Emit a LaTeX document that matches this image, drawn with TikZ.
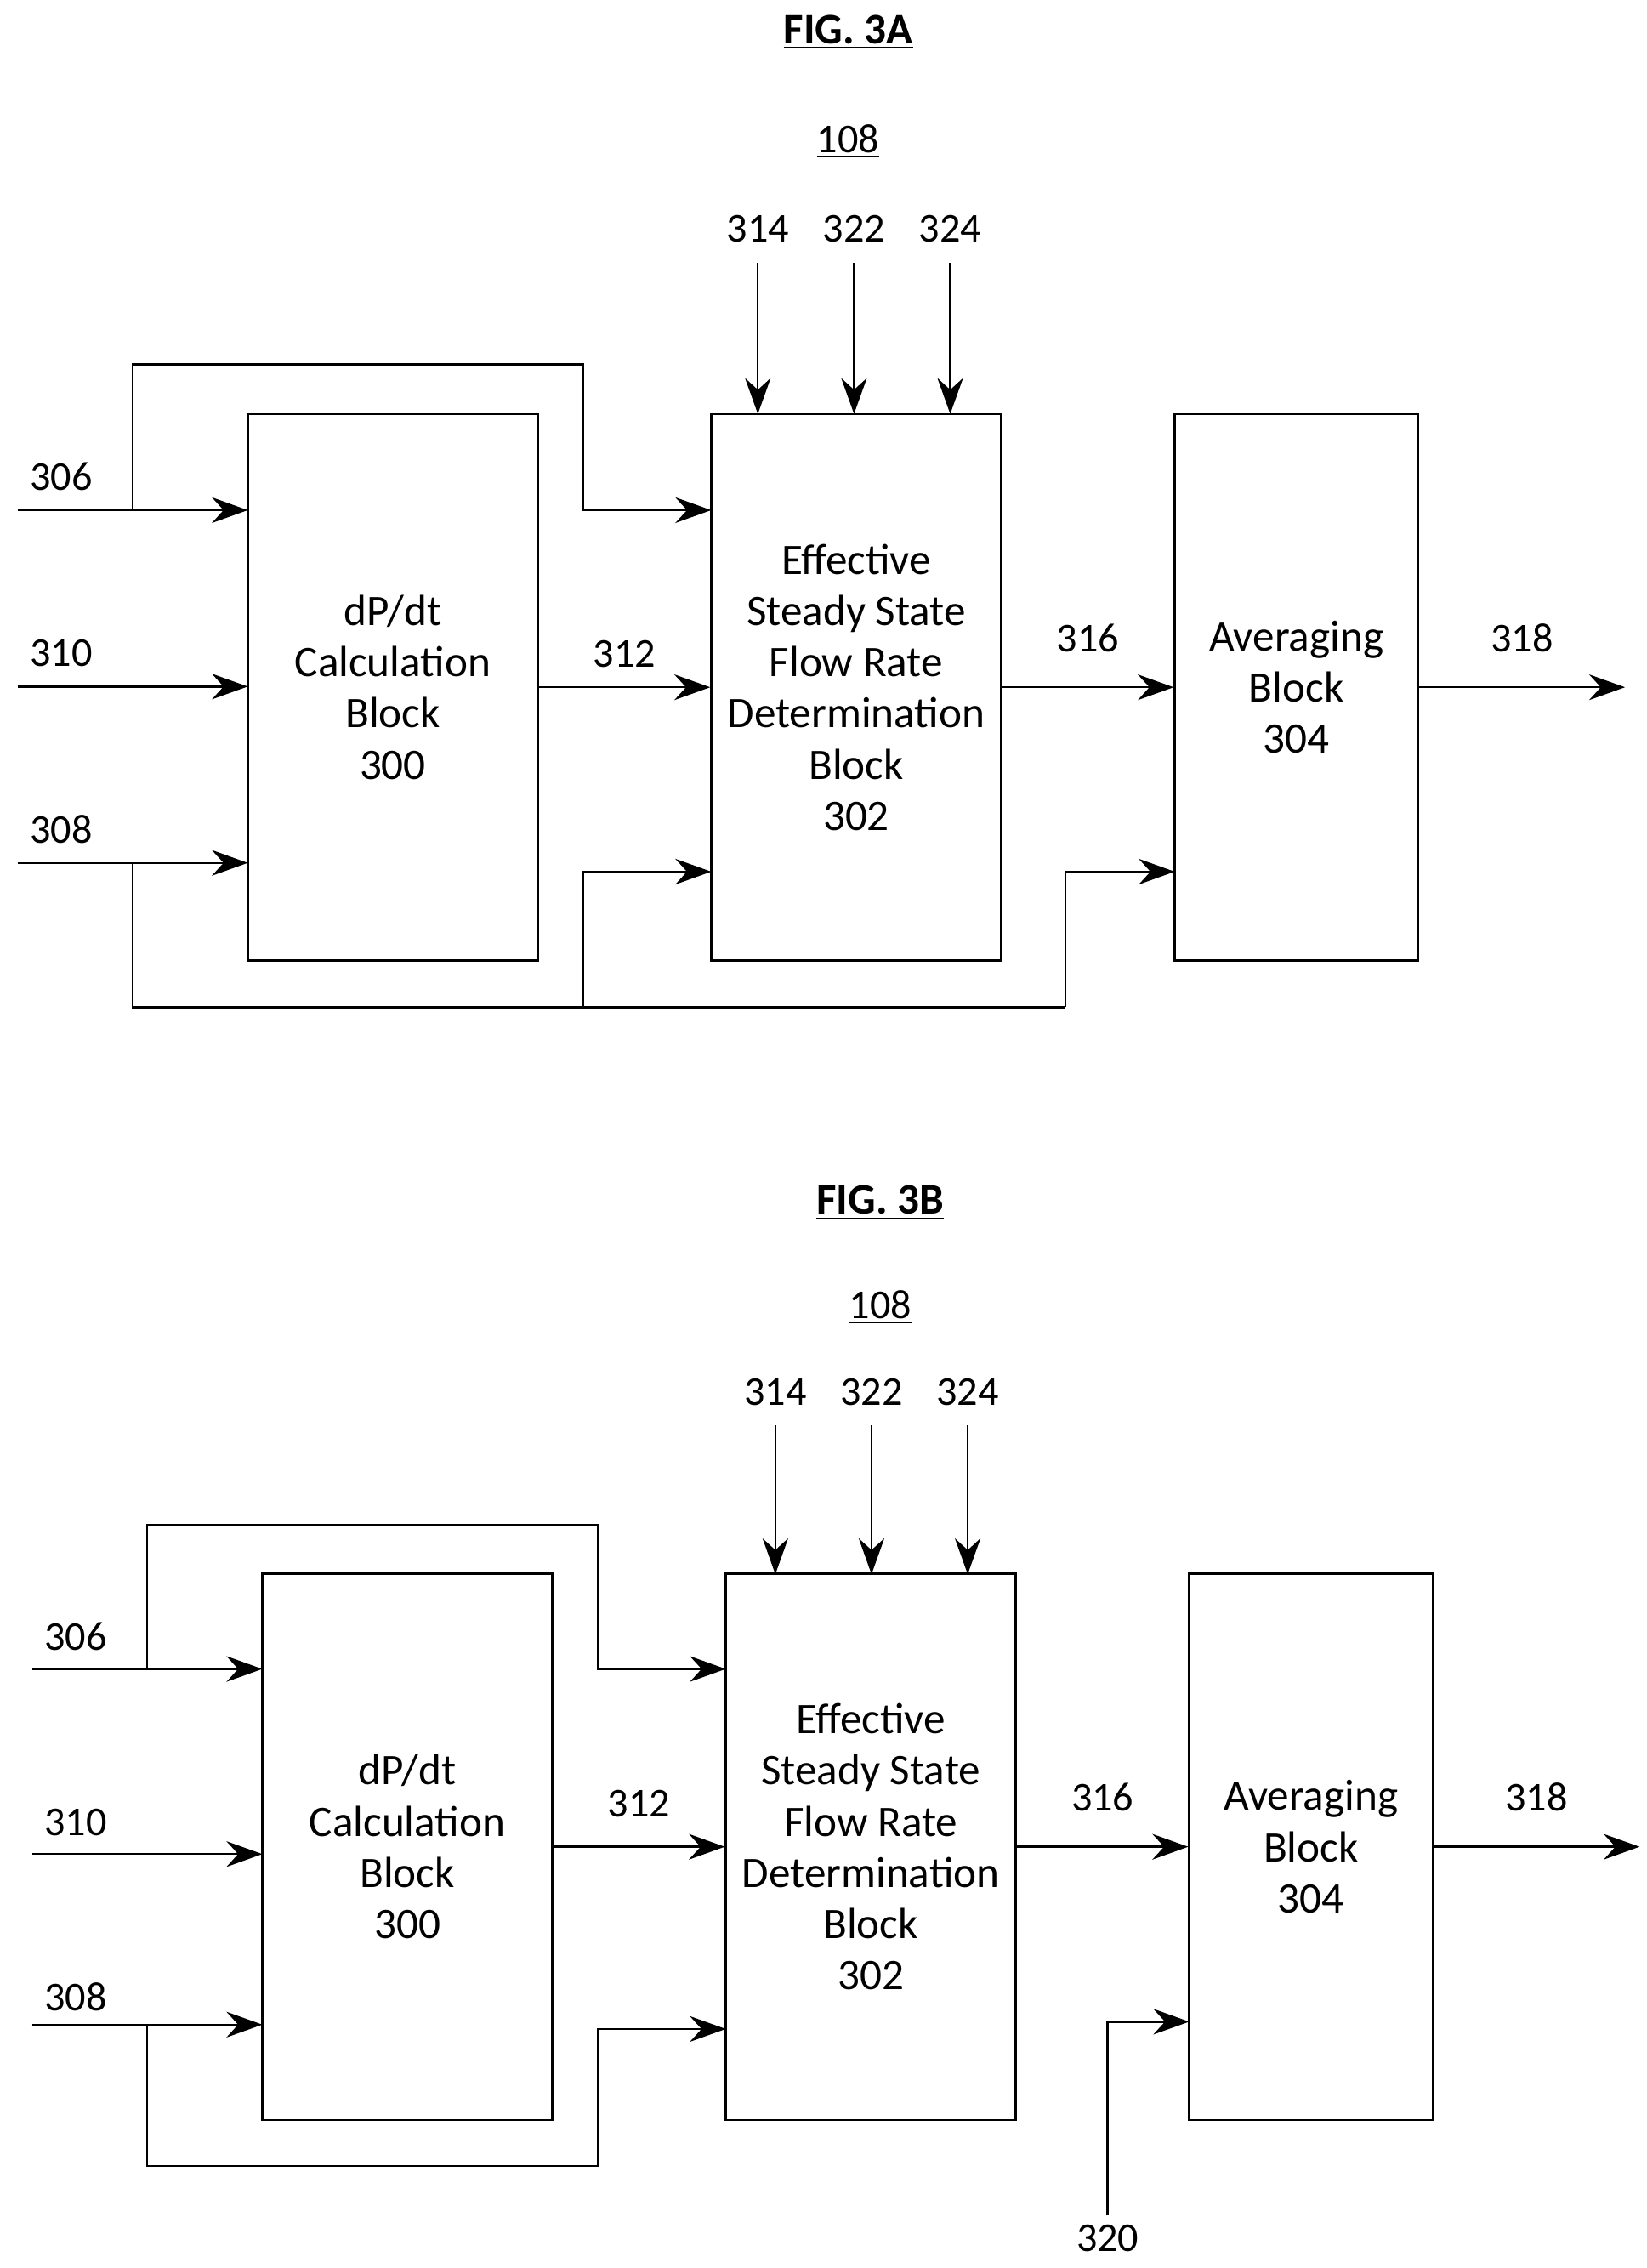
\documentclass[tikz,border=0pt]{standalone}
\usepackage{fontspec}
\setmainfont{Carlito}
\usetikzlibrary{arrows.meta}
\tikzset{
	blk/.style={draw,thick,minimum width=#1,minimum height=7.5cm,inner sep=0pt,align=center},
	sig/.style={thick,-{Stealth[length=14pt,width=10pt]}},
	wire/.style={thick},
	lbl/.style={font=\fontsize{16}{19}\selectfont}
}
\begin{document}
\begin{tikzpicture}[x=0.02cm,y=-0.02cm,font=\fontsize{17}{20}\selectfont]
	\useasboundingbox (0,0) rectangle (1130,1556);
	% FIG. 3A
	\node[font=\bfseries\fontsize{17}{20}\selectfont] (titleA) at (582,22) {\underline{FIG. 3A}};
	\node[lbl] (refA) at (582,97) {\underline{108}};
	\node[blk=3.98cm] (calcA) at (269.5,471.5) {dP/dt\\Calculation\\Block\\300};
	\node[blk=3.98cm] (flowA) at (587.5,471.5) {Effective\\Steady State\\Flow Rate\\Determination\\Block\\302};
	\node[blk=3.34cm] (avgA) at (889.5,471.5) {Averaging\\Block\\304};
	\draw[sig] (12,350) -- (170,350);
	\draw[sig] (12,471) -- (170,471);
	\draw[sig] (12,592) -- (170,592);
	\node[lbl] (a306) at (42,327) {306};
	\node[lbl] (a310) at (42,448) {310};
	\node[lbl] (a308) at (42,569) {308};
	\draw[sig] (91,350) |- (400,250) -- (400,350) -- (488,350);
	\draw[wire] (91,592) |- (731,691);
	\draw[sig] (400,691) -- (400,598) -- (488,598);
	\draw[sig] (731,691) -- (731,598) -- (806,598);
	\draw[sig] (calcA) -- node[lbl,above=4pt] {312} (flowA);
	\draw[sig] (flowA) -- node[lbl,above=10pt] {316} (avgA);
	\draw[sig] (avgA.east) -- node[lbl,above=10pt] {318} (1115,471.5);
	\foreach \x/\t in {520/314,586/322,652/324}
		\draw[sig] (\x,180) node[lbl,above=4pt] {\t} -- (\x,284);
	% FIG. 3B
	\node[font=\bfseries\fontsize{17}{20}\selectfont] (titleB) at (604,825) {\underline{FIG. 3B}};
	\node[lbl] (refB) at (604,897) {\underline{108}};
	\node[blk=3.98cm] (calcB) at (279.5,1267) {dP/dt\\Calculation\\Block\\300};
	\node[blk=3.98cm] (flowB) at (597.5,1267) {Effective\\Steady State\\Flow Rate\\Determination\\Block\\302};
	\node[blk=3.34cm] (avgB) at (899.5,1267) {Averaging\\Block\\304};
	\draw[sig] (22,1145) -- (180,1145);
	\draw[sig] (22,1272) -- (180,1272);
	\draw[sig] (22,1389) -- (180,1389);
	\node[lbl] (b306) at (52,1123) {306};
	\node[lbl] (b310) at (52,1250) {310};
	\node[lbl] (b308) at (52,1370) {308};
	\draw[sig] (101,1145) |- (410,1046) -- (410,1145) -- (498,1145);
	\draw[sig] (101,1389) |- (410,1486) -- (410,1392) -- (498,1392);
	\draw[sig] (calcB) -- node[lbl,above=8pt] {312} (flowB);
	\draw[sig] (flowB) -- node[lbl,above=10pt] {316} (avgB);
	\draw[sig] (avgB.east) -- node[lbl,above=10pt] {318} (1125,1267);
	\foreach \x/\t in {532/314,598/322,664/324}
		\draw[sig] (\x,978) node[lbl,above=4pt] {\t} -- (\x,1080);
	\draw[sig] (760,1520) node[lbl,below=0pt] {320} -- (760,1387) -- (816,1387);
\end{tikzpicture}
\end{document}
